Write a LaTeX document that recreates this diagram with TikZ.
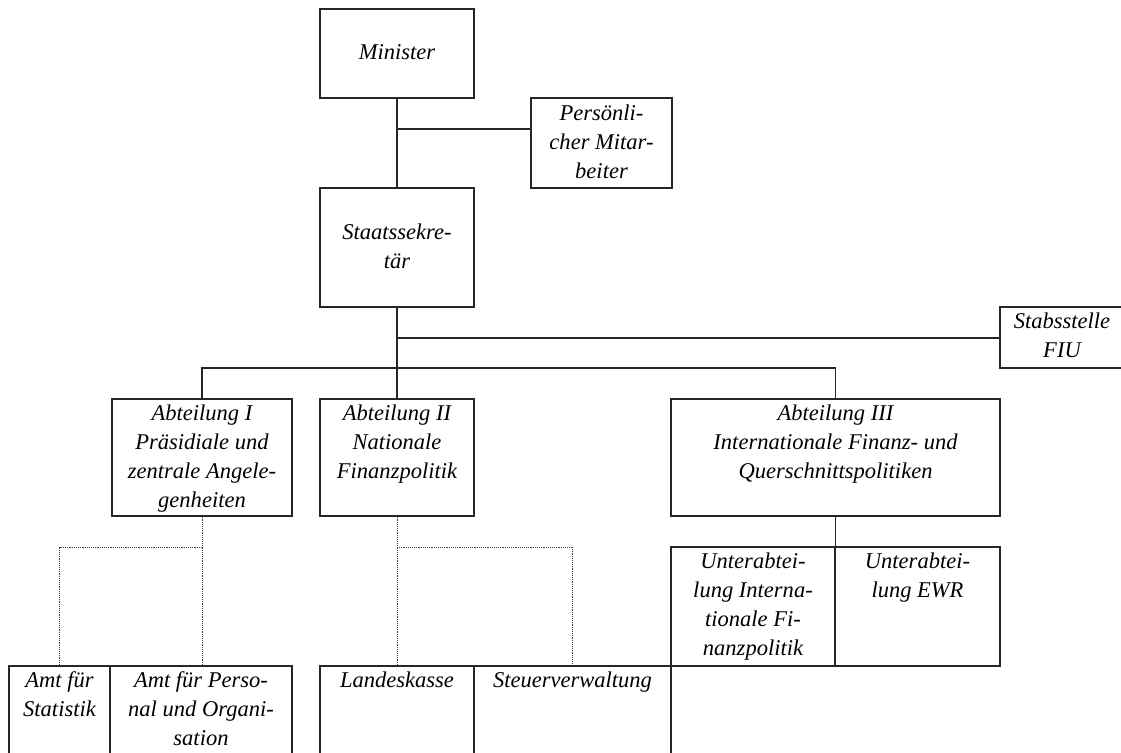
\documentclass[tikz,border=0pt]{standalone}
\usepackage{fontspec}
\setmainfont{Liberation Serif}
\usetikzlibrary{fit}
\begin{document}
\begin{tikzpicture}[x=0.75pt,y=-0.75pt,
  box/.style={draw=black!85, line width=1pt, inner sep=0pt},
  lbl/.style={font=\fontsize{16.9}{21.75}\selectfont\itshape, align=center, inner sep=0pt, anchor=north},
  conn/.style={draw=black!85, line width=1pt},
  dots/.style={draw=black!75, line width=0.7pt, dash pattern=on 0.7pt off 0.7pt}]
\useasboundingbox (0,0) rectangle (1121,753);
\fill[white] (0,0) rectangle (1121,753);
% boxes
\node[box, fit={(320,9) (474,98)}] (min) {};
\node[box, fit={(531,98) (672,188)}] (pers) {};
\node[box, fit={(320,188) (474,307)}] (staat) {};
\node[box, fit={(1000,307) (1130,368)}] (fiu) {};
\node[box, fit={(112,399) (292,516)}] (abt1) {};
\node[box, fit={(320,399) (474,516)}] (abt2) {};
\node[box, fit={(671,399) (1000,516)}] (abt3) {};
\node[box, fit={(671,547) (835,666)}] (ua1) {};
\node[box, fit={(835,547) (1000,666)}] (ua2) {};
\node[box, fit={(9,666) (110,775)}] (amt1) {};
\node[box, fit={(110,666) (292,775)}] (amt2) {};
\node[box, fit={(320,666) (474,775)}] (lk) {};
\node[box, fit={(474,666) (671,775)}] (sv) {};
% labels
\node[lbl] (tmin) at (397,38.7) {\strut Minister};
\node[lbl] (tpers) at (601.5,100.4) {\strut Persönli-\\cher Mitar-\\beiter};
\node[lbl] (tstaat) at (397,218.7) {\strut Staatssekre-\\tär};
\node[lbl] (tfiu) at (1062,308) {\strut Stabsstelle\\FIU};
\node[lbl] (tabt1) at (202,399.7) {\strut Abteilung I\\Präsidiale und\\zentrale Angele-\\genheiten};
\node[lbl] (tabt2) at (397,399.7) {\strut Abteilung II\\Nationale\\Finanzpolitik};
\node[lbl] (tabt3) at (835.5,399.7) {\strut Abteilung III\\Internationale Finanz- und\\Querschnittspolitiken};
\node[lbl] (tua1) at (753,547.7) {\strut Unterabtei-\\lung Interna-\\tionale Fi-\\nanzpolitik};
\node[lbl] (tua2) at (917.5,547.7) {\strut Unterabtei-\\lung EWR};
\node[lbl] (tamt1) at (59.5,666.7) {\strut Amt für\\Statistik};
\node[lbl] (tamt2) at (201,666.7) {\strut Amt für Perso-\\nal und Organi-\\sation};
\node[lbl] (tlk) at (397,666.7) {\strut Landeskasse};
\node[lbl] (tsv) at (572.5,666.7) {\strut Steuerverwaltung};
% connectors
\coordinate (j1) at (397,129);
\coordinate (j2) at (397,338);
\coordinate (bus) at (397,368);
\coordinate (d1) at (202,547);
\coordinate (d2) at (397,547);
\draw[conn] (min.south) -- (staat.north);
\draw[conn] (j1) -- (j1 -| pers.west);
\draw[conn] (staat.south) -- (abt2.north);
\draw[conn] (j2) -- (j2 -| fiu.west);
\draw[conn] (abt1.north) |- (bus) -| (abt3.north);
\draw[conn] (ua1.north east |- abt3.south) -- (ua1.north east);
\draw[dots] (abt1.south) -- (abt1.south |- amt2.north);
\draw[dots] (d1) -| (amt1.north);
\draw[dots] (abt2.south) -- (lk.north);
\draw[dots] (d2) -| (sv.north);
\end{tikzpicture}
\end{document}
